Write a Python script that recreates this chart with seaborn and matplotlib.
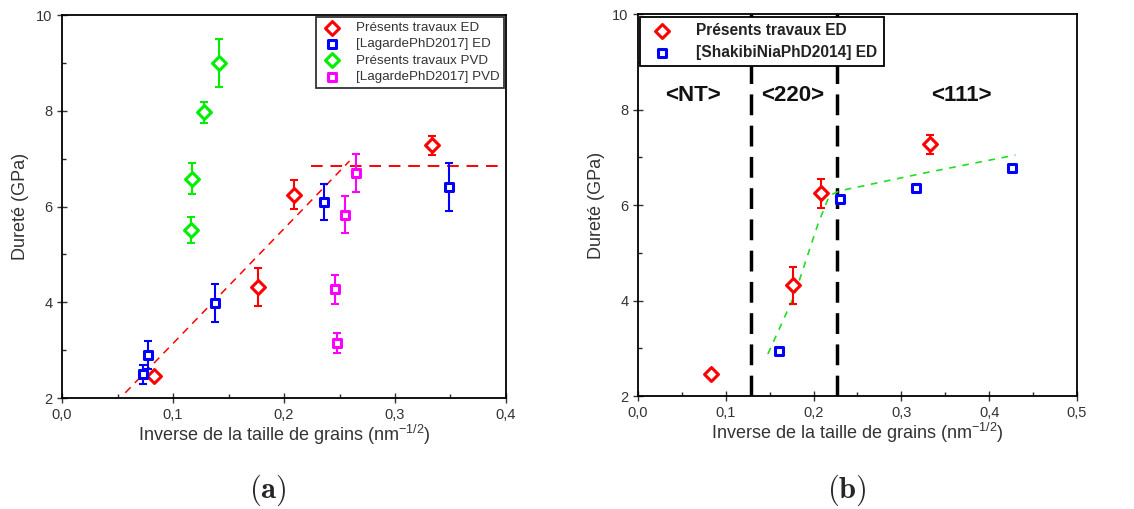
import numpy as np
import matplotlib
matplotlib.use("Agg")
import matplotlib.pyplot as plt
import seaborn as sns
from matplotlib.ticker import MultipleLocator, FuncFormatter

## data, panel (a)
ed_x = [0.083, 0.177, 0.209, 0.333]
ed_y = [2.46, 4.32, 6.25, 7.28]
ed_err = [0.0, 0.39, 0.30, 0.20]

lag_ed_x = [0.0727, 0.0778, 0.138, 0.236, 0.349]
lag_ed_y = [2.50, 2.90, 3.99, 6.10, 6.40]
lag_ed_err = [0.20, 0.30, 0.40, 0.38, 0.50]

pvd_x = [0.116, 0.117, 0.128, 0.1415]
pvd_y = [5.51, 6.58, 7.97, 9.00]
pvd_err = [0.27, 0.32, 0.22, 0.50]

lag_pvd_x = [0.246, 0.248, 0.255, 0.265]
lag_pvd_y = [4.27, 3.15, 5.83, 6.70]
lag_pvd_err = [0.30, 0.20, 0.38, 0.40]

fit_a_x = [0.057, 0.259]
fit_a_y = [2.11, 6.95]
plateau_x = [0.224, 0.40]
plateau_y = [6.85, 6.85]

## data, panel (b)
shak_x = [0.1606, 0.230, 0.317, 0.426]
shak_y = [2.94, 6.13, 6.35, 6.77]

fit_b_x = [0.148, 0.178, 0.205, 0.218, 0.230, 0.320, 0.430]
fit_b_y = [2.88, 4.10, 5.60, 6.20, 6.30, 6.65, 7.05]

sep_x = [0.129, 0.227]
zones = ["<NT>", "<220>", "<111>"]
zone_x = [0.063, 0.176, 0.368]

sns.set_style("ticks")
plt.rcParams['font.family'] = ['Liberation Sans', 'DejaVu Sans']
plt.rcParams['mathtext.fontset'] = 'cm'

fig = plt.figure(figsize=(11.34, 5.09), dpi=100)
ax1 = fig.add_axes([0.0547, 0.218, 0.3915, 0.7525])
ax2 = fig.add_axes([0.5626, 0.222, 0.387, 0.750])

comma = FuncFormatter(lambda v, p: ("%.1f" % v).replace(".", ","))

def setup(ax, xmax):
    ax.set_xlim(0, xmax)
    ax.set_ylim(2, 10)
    ax.xaxis.set_major_locator(MultipleLocator(0.1))
    ax.xaxis.set_minor_locator(MultipleLocator(0.05))
    ax.yaxis.set_major_locator(MultipleLocator(2))
    ax.yaxis.set_minor_locator(MultipleLocator(1))
    ax.xaxis.set_major_formatter(comma)
    ax.tick_params(which='major', direction='inout', length=7, width=1, labelsize=10.5, colors='#333333')
    ax.tick_params(which='minor', direction='in', length=3, width=1)
    for s in ax.spines.values():
        s.set_linewidth(1.3)
        s.set_color('black')
    xl = ax.set_xlabel(r"Inverse de la taille de grains (nm$^{\mathregular{-1/2}}$)", fontsize=13,
                       color='#333333', labelpad=1)
    xl.set_math_fontfamily('dejavusans')
    ax.set_ylabel("Dureté (GPa)", fontsize=13, color='#333333', labelpad=5)

def errpts(ax, x, y, err, color, marker, ms, label):
    ax.errorbar(x, y, yerr=err, fmt='none', ecolor=color, elinewidth=1.5, capsize=3, capthick=1.5, zorder=3)
    sns.scatterplot(x=x, y=y, ax=ax, marker=marker, s=ms, facecolor='white', edgecolor=color,
                    linewidth=2.2, label=label, zorder=4)

## panel (a)
setup(ax1, 0.4)
ax1.plot(fit_a_x, fit_a_y, color='red', ls=(0, (5, 4)), lw=1.1, zorder=2)
ax1.plot(plateau_x, plateau_y, color='red', ls=(0, (6, 4)), lw=1.4, zorder=2)
errpts(ax1, ed_x, ed_y, ed_err, 'red', 'D', 50, "Présents travaux ED")
errpts(ax1, lag_ed_x, lag_ed_y, lag_ed_err, 'blue', 's', 35, "[LagardePhD2017] ED")
errpts(ax1, pvd_x, pvd_y, pvd_err, '#00ee00', 'D', 50, "Présents travaux PVD")
errpts(ax1, lag_pvd_x, lag_pvd_y, lag_pvd_err, 'magenta', 's', 35, "[LagardePhD2017] PVD")
leg = ax1.legend(loc='upper right', fontsize=9.6, frameon=True, fancybox=False, edgecolor='black',
                 borderaxespad=0.15, handletextpad=1.0, labelspacing=0.3, borderpad=0.35,
                 handlelength=1.6)
leg.get_frame().set_linewidth(1.3)
for t in leg.get_texts():
    t.set_color('#333333')

## panel (b)
setup(ax2, 0.5)
for sx in sep_x:
    ax2.plot([sx, sx], [2, 10], color='black', ls=(0, (6, 3)), lw=2.5, zorder=2, clip_on=True)
for zl, zx in zip(zones, zone_x):
    ax2.text(zx, 8.3, zl, ha='center', va='center', fontsize=16, fontweight='bold', color='#111111')
ax2.plot(fit_b_x, fit_b_y, color='#22dd22', ls=(0, (4, 4)), lw=1.2, zorder=2)
errpts(ax2, ed_x, ed_y, ed_err, 'red', 'D', 50, "Présents travaux ED")
sns.scatterplot(x=shak_x, y=shak_y, ax=ax2, marker='s', s=30, facecolor='white', edgecolor='blue',
                linewidth=2.2, label="[ShakibiNiaPhD2014] ED", zorder=4)
leg2 = ax2.legend(loc='upper left', prop={'size': 11.2, 'weight': 'bold'}, frameon=True, fancybox=False,
                  edgecolor='black', framealpha=1, borderaxespad=0.15, handletextpad=1.2, labelspacing=0.45,
                  borderpad=0.4)
leg2.get_frame().set_linewidth(1.3)
leg2.set_zorder(5)
for t in leg2.get_texts():
    t.set_color('#222222')

fig.text(268 / 1134, 1 - 490 / 509, r"$\mathbf{(a)}$", ha='center', va='center', fontsize=22)
fig.text(847 / 1134, 1 - 490 / 509, r"$\mathbf{(b)}$", ha='center', va='center', fontsize=22)

fig.savefig("out.png", dpi=100)
